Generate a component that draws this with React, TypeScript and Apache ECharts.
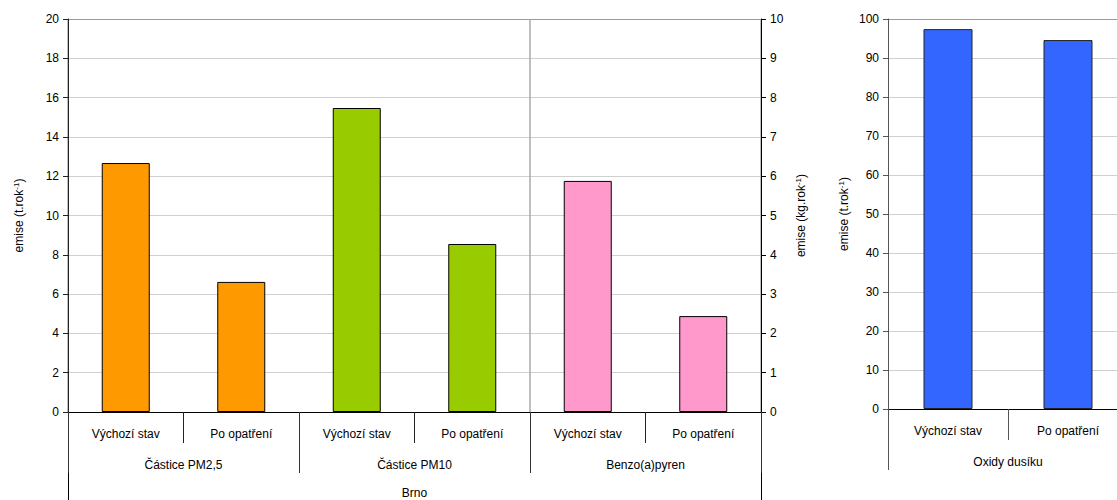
import React, { useEffect, useRef } from "react";
import * as echarts from "echarts";

const subCategories = ["Výchozí stav", "Po opatření", "Výchozí stav", "Po opatření", "Výchozí stav", "Po opatření"];
const groups = ["Částice PM2,5", "Částice PM10", "Benzo(a)pyren"];
const city = ["Brno"];
const pmValues = [12.67, 6.62, 15.47, 8.55];
const pmColors = ["#FF9900", "#FF9900", "#99CC00", "#99CC00"];
const benzoValues = [5.88, 2.44];
const benzoColor = "#FF99CC";
const noxCategories = ["Výchozí stav", "Po opatření"];
const noxGroup = ["Oxidy dusíku"];
const noxValues = [97.4, 94.6];
const noxColor = "#3366FF";

const FONT = "'Liberation Sans', Arial, sans-serif";

export default function App() {
  const ref = useRef<HTMLDivElement>(null);
  useEffect(() => {
    if (!ref.current) return;
    const chart = echarts.init(ref.current, undefined, { renderer: "svg" });
    const label = { color: "#000", fontSize: 12, fontFamily: FONT };
    const nameStyle = {
      color: "#000",
      fontSize: 12,
      fontFamily: FONT,
      rich: {
        b: { fontSize: 12, fontFamily: FONT, color: "#000", lineHeight: 14 },
        sup: { fontSize: 8, fontFamily: FONT, color: "#000", lineHeight: 14, verticalAlign: "top", padding: [0, 0, 6, 0] },
      },
    };
    const gridColors = ["#d0d0d0", "#d0d0d0", "#d0d0d0", "#d0d0d0", "#d0d0d0", "#d0d0d0", "#d0d0d0", "#d0d0d0", "#d0d0d0", "#d0d0d0", "#999999"];
    const pmData = subCategories.map((_, i) =>
      i < pmValues.length ? { value: pmValues[i], itemStyle: { color: pmColors[i] } } : null
    );
    const benzoData = subCategories.map((_, i) =>
      i >= pmValues.length ? benzoValues[i - pmValues.length] : null
    );
    chart.setOption({
      animation: false,
      textStyle: { fontFamily: FONT },
      grid: [
        { left: 68, right: 356, top: 19, bottom: 88, outerBoundsMode: "none", containLabel: false },
        { left: 888, width: 240, top: 19, bottom: 91, outerBoundsMode: "none", containLabel: false },
      ],
      xAxis: [
        {
          type: "category",
          gridIndex: 0,
          data: subCategories,
          position: "bottom",
          axisLine: { show: true, lineStyle: { color: "#000", width: 1 } },
          axisTick: { show: true, length: 31, interval: 0, lineStyle: { color: "#222" } },
          axisLabel: { ...label, margin: 16, interval: 0 },
          splitLine: { show: false },
        },
        {
          type: "category",
          gridIndex: 0,
          data: groups,
          position: "bottom",
          offset: 31,
          axisLine: { show: false },
          axisTick: { show: false },
          axisLabel: { ...label, margin: 16, interval: 0 },
          splitLine: { show: false },
        },
        {
          type: "category",
          gridIndex: 0,
          data: groups,
          position: "bottom",
          axisLine: { show: false },
          axisTick: { show: true, length: 61, interval: 0, lineStyle: { color: "#333" } },
          axisLabel: { show: false },
          splitLine: { show: true, interval: 1, lineStyle: { color: "#aaaaaa", width: 1.5 } },
        },
        {
          type: "category",
          gridIndex: 0,
          data: city,
          position: "bottom",
          offset: 61,
          axisLine: { show: false },
          axisTick: { show: true, length: 40, interval: 0, lineStyle: { color: "#000" } },
          axisLabel: { ...label, margin: 14 },
        },
        {
          type: "category",
          gridIndex: 1,
          data: noxCategories,
          position: "bottom",
          axisLine: { show: true, lineStyle: { color: "#000" } },
          axisTick: { show: true, length: 31, interval: 0, lineStyle: { color: "#555" } },
          axisLabel: { ...label, margin: 16, interval: 0 },
        },
        {
          type: "category",
          gridIndex: 1,
          data: noxGroup,
          position: "bottom",
          offset: 31,
          axisLine: { show: false },
          axisTick: { show: true, length: 30, interval: 0, lineStyle: { color: "#555" } },
          axisLabel: { ...label, margin: 16 },
        },
      ],
      yAxis: [
        {
          type: "value",
          gridIndex: 0,
          position: "left",
          min: 0,
          max: 20,
          interval: 2,
          axisLine: { show: true, lineStyle: { color: "#222" } },
          axisTick: { show: true, length: 5, lineStyle: { color: "#222" } },
          axisLabel: { ...label, margin: 9 },
          splitLine: { show: true, lineStyle: { color: gridColors, width: 1 } },
          name: "{b|emise (t.rok}{sup|-1}{b|)}",
          nameLocation: "middle",
          nameRotate: 90,
          nameGap: 42,
          nameTextStyle: nameStyle,
        },
        {
          type: "value",
          gridIndex: 0,
          position: "right",
          min: 0,
          max: 10,
          interval: 1,
          axisLine: { show: true, lineStyle: { color: "#000" } },
          axisTick: { show: true, length: 5, lineStyle: { color: "#000" } },
          axisLabel: { ...label, margin: 9 },
          splitLine: { show: false },
          name: "{b|emise (kg.rok}{sup|-1}{b|)}",
          nameLocation: "middle",
          nameRotate: 90,
          nameGap: 33,
          nameTextStyle: nameStyle,
        },
        {
          type: "value",
          gridIndex: 1,
          position: "left",
          min: 0,
          max: 100,
          interval: 10,
          axisLine: { show: true, lineStyle: { color: "#555" } },
          axisTick: { show: true, length: 5, lineStyle: { color: "#555" } },
          axisLabel: { ...label, margin: 9 },
          splitLine: { show: true, lineStyle: { color: gridColors, width: 1 } },
          name: "{b|emise (t.rok}{sup|-1}{b|)}",
          nameLocation: "middle",
          nameRotate: 90,
          nameGap: 37,
          nameTextStyle: nameStyle,
        },
      ],
      series: [
        {
          type: "bar",
          xAxisIndex: 0,
          yAxisIndex: 0,
          data: pmData,
          barWidth: 48,
          barGap: "-100%",
          itemStyle: { borderColor: "#000", borderWidth: 1 },
        },
        {
          type: "bar",
          xAxisIndex: 0,
          yAxisIndex: 1,
          data: benzoData,
          barWidth: 48,
          barGap: "-100%",
          itemStyle: { color: benzoColor, borderColor: "#000", borderWidth: 1 },
        },
        {
          type: "bar",
          xAxisIndex: 4,
          yAxisIndex: 2,
          data: noxValues,
          barWidth: 49,
          itemStyle: { color: noxColor, borderColor: "#222", borderWidth: 1 },
        },
      ],
    });
    return () => chart.dispose();
  }, []);
  return <div ref={ref} style={{ position: "absolute", left: 0, top: 0, width: 1117, height: 500 }} />;
}
